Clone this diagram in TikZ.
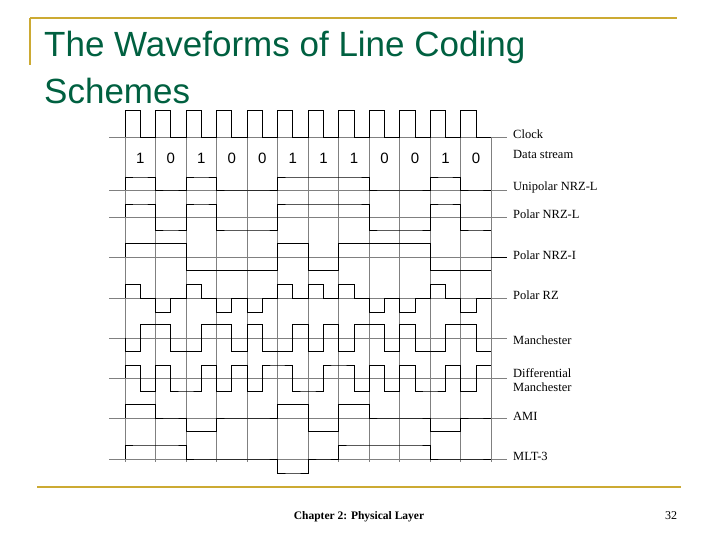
\documentclass[tikz,border=0pt]{standalone}
\usepackage{fontspec}
\setmainfont{Liberation Serif}
\newfontfamily\titlefont{Liberation Sans}
\definecolor{ttl}{RGB}{0,96,64}
\definecolor{gold}{RGB}{204,170,51}
\begin{document}
\begin{tikzpicture}[x=1pt,y=-1pt,
  grid/.style={draw=gray,line width=0.8pt},
  wave/.style={draw=black,line width=0.95pt},
  lbl/.style={anchor=west,font=\fontsize{12.5}{14}\selectfont,inner sep=0pt,align=left},
  bit/.style={font=\titlefont\fontsize{15}{17}\selectfont,inner sep=0pt}]
\useasboundingbox (0,0) rectangle (720,540);
\def\hw{15.265}
% gold rules
\draw[gold,line width=2.5pt] (30,18) -- (677,18);
\draw[gold,line width=2.5pt] (30,18) -- (30,65);
\draw[gold,line width=2.5pt] (37,487) -- (681,487);
% title
\node[anchor=west,inner sep=0pt,text=ttl,font=\titlefont\fontsize{35}{40}\selectfont] (t1) at (44,47) {The Waveforms of Line Coding};
\node[anchor=west,inner sep=0pt,text=ttl,font=\titlefont\fontsize{35}{40}\selectfont] (t2) at (44,91) {Schemes};
% grid
\foreach \i in {0,...,12} \draw[grid] ({125+2*\i*\hw},137) -- ({125+2*\i*\hw},462);
\foreach \b in {137,190,217,257,298,338,378,418,459} \draw[grid] (109,\b) -- (507,\b);
% clock
\draw[wave] (125,137) \foreach \i in {0,...,11} { -- ({125+2*\i*\hw},110) -- ({125+(2*\i+1)*\hw},110) -- ({125+(2*\i+1)*\hw},137) -- ({125+(2*\i+2)*\hw},137) };
% bits
\foreach \v [count=\i from 0] in {1,0,1,0,0,1,1,1,0,0,1,0}
  \node[bit] (b\i) at ({125+(2*\i+1)*\hw},158) {\v};
\newcommand\wv[3]{\draw[wave] (125,#1) \foreach \l [count=\i from 0] in {#3} { -- ({125+\i*\hw},{#1-\l*#2}) -- ({125+(\i+1)*\hw},{#1-\l*#2}) };}
\wv{190}{13}{1,1,0,0,1,1,0,0,0,0,1,1,1,1,1,1,0,0,0,0,1,1,0,0}
\wv{217}{13}{1,1,-1,-1,1,1,-1,-1,-1,-1,1,1,1,1,1,1,-1,-1,-1,-1,1,1,-1,-1}
\wv{257}{13.5}{1,1,1,1,-1,-1,-1,-1,-1,-1,1,1,-1,-1,1,1,1,1,1,1,-1,-1,-1,-1}
\draw[wave] (491,257) -- (507,257);
\wv{298}{14}{1,0,-1,0,1,0,-1,0,-1,0,1,0,1,0,1,0,-1,0,-1,0,1,0,-1,0}
\wv{338}{13.5}{-1,1,1,-1,-1,1,1,-1,1,-1,-1,1,-1,1,-1,1,1,-1,1,-1,-1,1,1,-1}
\wv{378}{13}{1,-1,1,-1,-1,1,-1,1,-1,1,1,-1,-1,1,1,-1,1,-1,1,-1,-1,1,-1,1}
\wv{418}{13.5}{1,1,0,0,-1,-1,0,0,0,0,1,1,-1,-1,1,1,0,0,0,0,-1,-1,0,0}
\wv{459}{14}{1,1,1,1,0,0,0,0,0,0,-1,-1,0,0,1,1,1,1,1,1,0,0,0,0}
% labels
\node[lbl] (l1) at (513,134) {Clock};
\node[lbl] (l2) at (513,154) {Data stream};
\node[lbl] (l3) at (513,187) {Unipolar NRZ-L};
\node[lbl] (l4) at (513,214) {Polar NRZ-L};
\node[lbl] (l5) at (513,255) {Polar NRZ-I};
\node[lbl] (l6) at (513,295) {Polar RZ};
\node[lbl] (l7) at (513,340) {Manchester};
\node[lbl] (l8) at (513,380) {Differential\\Manchester};
\node[lbl] (l9) at (513,416) {AMI};
\node[lbl] (l10) at (513,456) {MLT-3};
% footer
\node[font=\bfseries\fontsize{11.5}{13}\selectfont] (f1) at (359,517) {Chapter 2: Physical Layer};
\node[font=\fontsize{12}{14}\selectfont] (f2) at (671,516) {32};
\end{tikzpicture}
\end{document}
